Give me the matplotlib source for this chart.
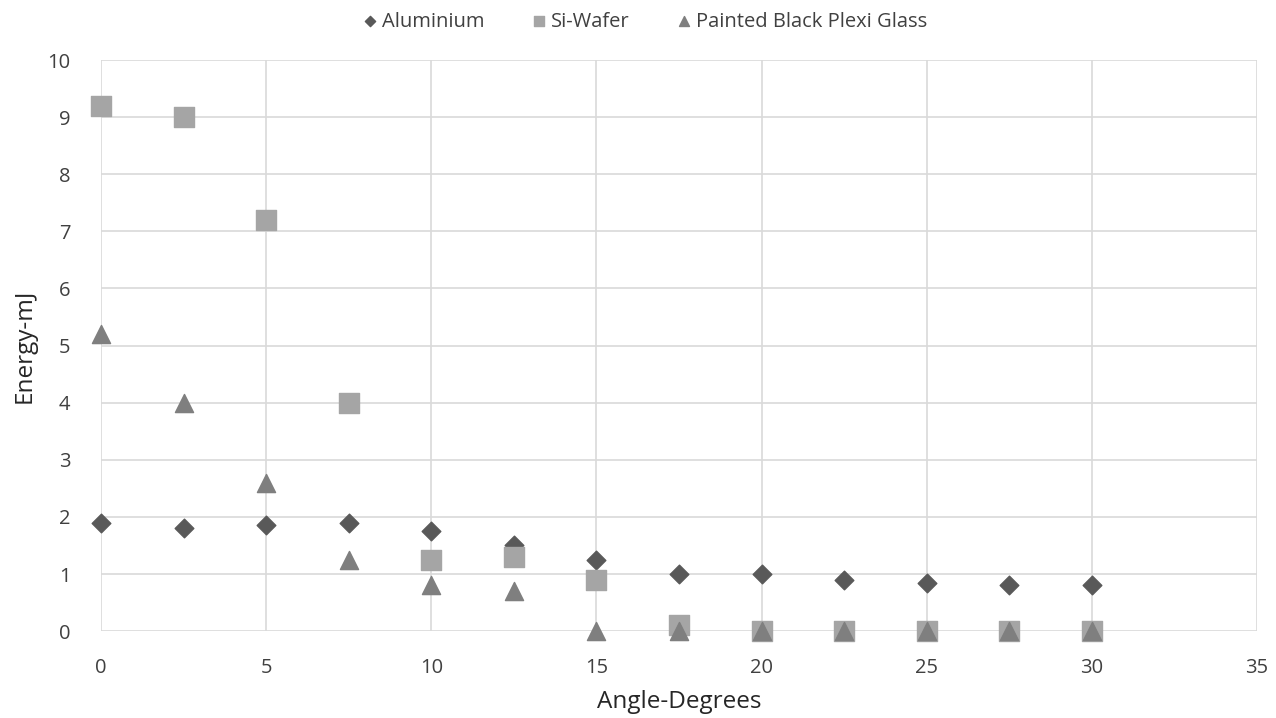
import matplotlib
matplotlib.use("Agg")
import matplotlib.pyplot as plt

# angle in degrees, energy in mJ
angles = [0, 2.5, 5, 7.5, 10, 12.5, 15, 17.5, 20, 22.5, 25, 27.5, 30]
aluminium = [1.9, 1.8, 1.85, 1.9, 1.75, 1.5, 1.25, 1.0, 1.0, 0.9, 0.85, 0.8, 0.8]
si_wafer = [9.2, 9.0, 7.2, 4.0, 1.25, 1.3, 0.9, 0.1, 0, 0, 0, 0, 0]
plexi = [5.2, 4.0, 2.6, 1.25, 0.8, 0.7, 0, 0, 0, 0, 0, 0, 0]

x_ticks = [0, 5, 10, 15, 20, 25, 30, 35]
y_ticks = list(range(0, 11))

plt.rcParams['font.family'] = ['Open Sans', 'DejaVu Sans']

fig = plt.figure(figsize=(12.76, 7.18), dpi=100)
ax = fig.add_axes([0.0792, 0.121, 0.9058, 0.7954])

ax.scatter(angles, aluminium, marker="D", s=90, color="#595959", label="Aluminium",
           zorder=3, clip_on=False)
ax.scatter(angles, si_wafer, marker="s", s=200, color="#a5a5a5", label="Si-Wafer",
           zorder=3, clip_on=False)
ax.scatter(angles, plexi, marker="^", s=170, color="#7f7f7f", label="Painted Black Plexi Glass",
           zorder=3, clip_on=False)

ax.set_xlim(0, 35)
ax.set_ylim(0, 10)
ax.set_xticks(x_ticks)
ax.set_yticks(y_ticks)
ax.grid(True, color="#d9d9d9", linewidth=1.2)
ax.set_axisbelow(True)
for s in ax.spines.values():
    s.set_visible(False)
ax.tick_params(length=0, labelsize=14.5, colors="#595959")
ax.tick_params(axis="x", pad=19)
ax.tick_params(axis="y", pad=22)
for lbl in ax.get_xticklabels() + ax.get_yticklabels():
    lbl.set_color("#404040")

ax.set_xlabel("Angle-Degrees", fontsize=17.5, color="#262626", labelpad=9)
ax.set_ylabel("Energy-mJ", fontsize=17.5, color="#262626", labelpad=8)

leg = ax.legend(loc="lower center", bbox_to_anchor=(0.47, 1.018), ncol=3, frameon=False,
                fontsize=14.5, handlelength=0.8, handletextpad=0.2, columnspacing=2.3,
                markerscale=0.55)
for t in leg.get_texts():
    t.set_color("#404040")

fig.savefig("out.png", dpi=100)
